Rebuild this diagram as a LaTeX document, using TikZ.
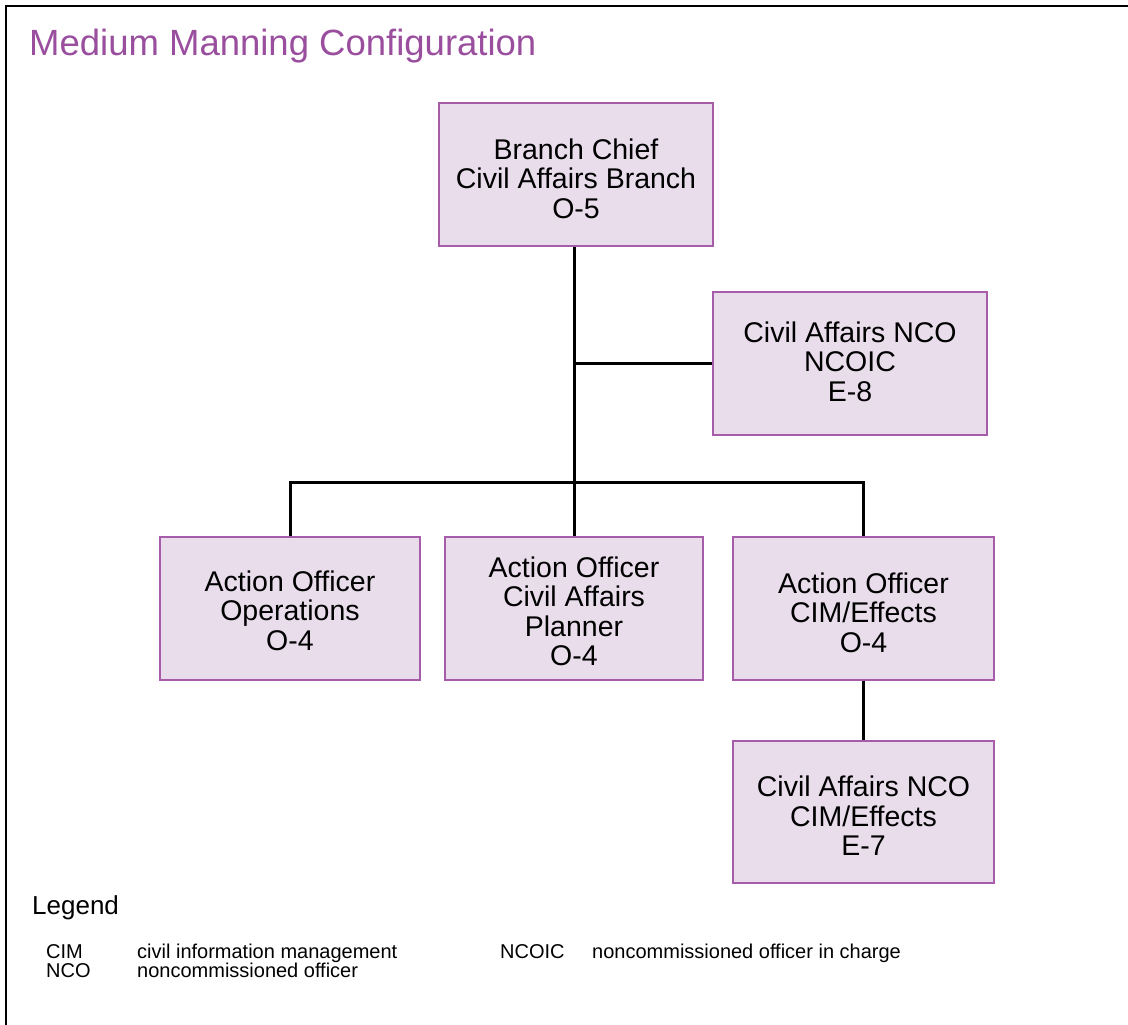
\documentclass[tikz,border=0pt]{standalone}
\usepackage{fontspec}
\setmainfont{Liberation Sans}
\definecolor{titlepurple}{HTML}{9A4E9E}
\definecolor{boxfill}{HTML}{E9DDEC}
\definecolor{boxline}{HTML}{A65CA8}
\begin{document}
\begin{tikzpicture}[x=1pt,y=-1pt,
  orgbox/.style={draw=boxline, line width=1.3pt, fill=boxfill, rectangle, inner sep=0pt},
  boxtext/.style={inner sep=0pt, align=center, font=\fontsize{28.5}{29.5}\selectfont},
  link/.style={draw=black, line width=3pt},
  frameline/.style={draw=black, line width=2.5pt},
  legtext/.style={anchor=base west, inner sep=0pt, font=\fontsize{20}{21}\selectfont}]
\useasboundingbox (0,0) rectangle (1128,1025);
\fill[white] (0,0) rectangle (1128,1025);
% frame
\draw[frameline] (6,1030) -- (6,6) -- (1135,6);
% title
\node[anchor=base west, inner sep=0pt, text=titlepurple, font=\fontsize{36.5}{40}\selectfont] (title) at (29,56) {Medium Manning Configuration};
% boxes
\node[orgbox, minimum width=274pt, minimum height=143pt] (bc) at (576,174.5) {};
\node[orgbox, minimum width=274pt, minimum height=143pt] (ncoic) at (850,363.5) {};
\node[orgbox, minimum width=260pt, minimum height=143pt] (ao1) at (290,608.5) {};
\node[orgbox, minimum width=258pt, minimum height=143pt] (ao2) at (574,608.5) {};
\node[orgbox, minimum width=261pt, minimum height=143pt] (ao3) at (863.5,608.5) {};
\node[orgbox, minimum width=261pt, minimum height=142pt] (nco) at (863.5,812) {};
% box texts
\node[boxtext] (bct) at ([yshift=-4pt]bc.center) {Branch Chief\\Civil Affairs Branch\\O-5};
\node[boxtext] (ncoict) at ([yshift=2pt]ncoic.center) {Civil Affairs NCO\\NCOIC\\E-8};
\node[boxtext] (ao1t) at ([yshift=-2pt]ao1.center) {Action Officer\\Operations\\O-4};
\node[boxtext] (ao2t) at ([yshift=-3pt]ao2.center) {Action Officer\\Civil Affairs\\Planner\\O-4};
\node[boxtext] (ao3t) at ([yshift=-4pt]ao3.center) {Action Officer\\CIM/Effects\\O-4};
\node[boxtext] (ncot) at ([yshift=-4pt]nco.center) {Civil Affairs NCO\\CIM/Effects\\E-7};
% connectors
\coordinate (top) at (bc.south -| ao2.north);
\coordinate (bus) at (574,482);
\draw[link] (top) -- (ao2.north);
\draw[link] (top |- ncoic.west) -- (ncoic.west);
\draw[link] (ao1.north) -- (ao1.north |- bus) -- (ao3.north |- bus) -- (ao3.north);
\draw[link] (ao3.south) -- (nco.north);
% legend
\node[anchor=base west, inner sep=0pt, font=\fontsize{26}{28}\selectfont] (leg) at (32,914) {Legend};
\node[legtext] (k1) at (46,958) {CIM};
\node[legtext] (v1) at (137,958) {civil information management};
\node[legtext] (k2) at (46,977) {NCO};
\node[legtext] (v2) at (137,977) {noncommissioned officer};
\node[legtext] (k3) at (500,958) {NCOIC};
\node[legtext] (v3) at (592,958) {noncommissioned officer in charge};
\end{tikzpicture}
\end{document}
